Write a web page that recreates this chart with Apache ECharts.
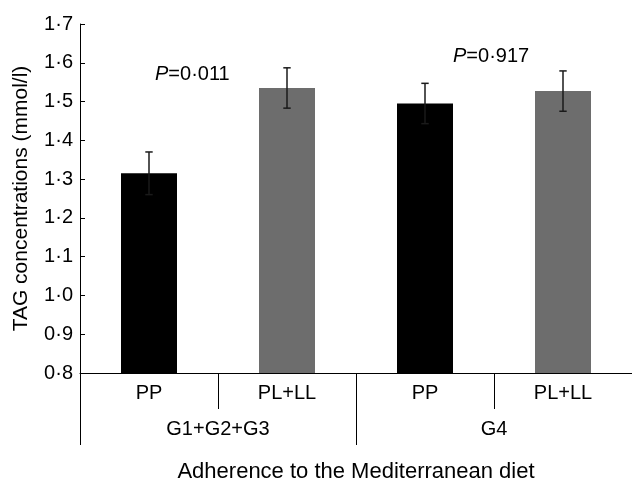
<!DOCTYPE html>
<html>
<head>
<meta charset="utf-8">
<script src="https://cdn.jsdelivr.net/npm/echarts@6/dist/echarts.min.js"></script>
<style>
html,body{margin:0;padding:0;background:#fff;}
#chart{width:632px;height:488px;}
</style>
</head>
<body>
<div id="chart"></div>
<script>
// ---- data ----
const categories = ['PP', 'PL+LL', 'PP', 'PL+LL'];
const groups = ['G1+G2+G3', 'G4'];
const means = [1.315, 1.535, 1.495, 1.527];
const sems = [0.055, 0.052, 0.052, 0.052];
const barColors = ['#000000', '#6d6d6d', '#000000', '#6d6d6d'];
const yTicks = [0.8, 0.9, 1.0, 1.1, 1.2, 1.3, 1.4, 1.5, 1.6, 1.7];
const pLabels = ['0·011', '0·917'];
const xTitle = 'Adherence to the Mediterranean diet';
const yTitle = 'TAG concentrations (mmol/l)';

const FONT = 'Liberation Sans, Arial, Helvetica, sans-serif';
const chart = echarts.init(document.getElementById('chart'), null, {renderer: 'canvas'});

const errData = means.map((m, i) => [i, m - sems[i], m + sems[i]]);

function pText(v) {
  return {
    text: '{i|P}{n|=' + v + '}',
    rich: {
      i: {fontStyle: 'italic', fontSize: 20, fontFamily: FONT, fill: '#000'},
      n: {fontSize: 20, fontFamily: FONT, fill: '#000'}
    }
  };
}

chart.setOption({
  animation: false,
  backgroundColor: '#ffffff',
  grid: {left: 80, right: -4, top: 24, bottom: 112, containLabel: false},
  xAxis: [
    {
      type: 'category', data: categories, position: 'bottom',
      axisLine: {show: true, lineStyle: {color: '#000', width: 1}},
      axisTick: {show: true, length: 36, lineStyle: {color: '#000', width: 1}},
      axisLabel: {color: '#000', fontSize: 20, fontFamily: FONT, margin: 10},
      splitLine: {show: false}
    },
    {
      type: 'category', data: groups, position: 'bottom', offset: 0,
      axisLine: {show: false},
      axisTick: {show: true, length: 72, lineStyle: {color: '#000', width: 1}},
      axisLabel: {color: '#000', fontSize: 20, fontFamily: FONT, margin: 46},
      name: xTitle, nameLocation: 'middle', nameGap: 88,
      nameTextStyle: {color: '#000', fontSize: 22, fontFamily: FONT}
    }
  ],
  yAxis: {
    type: 'value', min: yTicks[0], max: yTicks[yTicks.length - 1], interval: 0.1,
    axisLine: {show: true, lineStyle: {color: '#000', width: 1}},
    axisTick: {show: true, inside: true, length: 5, lineStyle: {color: '#000', width: 1}},
    axisLabel: {color: '#000', fontSize: 20, fontFamily: FONT, margin: 7,
      formatter: v => v.toFixed(1).replace('.', '·')},
    splitLine: {show: false},
    name: yTitle, nameLocation: 'middle', nameGap: 48, nameRotate: 90,
    nameTextStyle: {color: '#000', fontSize: 21, fontFamily: FONT}
  },
  series: [
    {
      type: 'bar', xAxisIndex: 0, barWidth: 56,
      data: means.map((v, i) => ({value: v, itemStyle: {color: barColors[i]}}))
    },
    {
      type: 'custom', xAxisIndex: 0, z: 5,
      renderItem: function (params, api) {
        const x = api.value(0);
        const lo = api.coord([x, api.value(1)]);
        const hi = api.coord([x, api.value(2)]);
        const cap = 3.7;
        const style = {stroke: '#1a1a1a', lineWidth: 1.5};
        return {
          type: 'group',
          children: [
            {type: 'line', shape: {x1: lo[0], y1: lo[1], x2: hi[0], y2: hi[1]}, style: style},
            {type: 'line', shape: {x1: hi[0] - cap, y1: hi[1], x2: hi[0] + cap, y2: hi[1]}, style: style},
            {type: 'line', shape: {x1: lo[0] - cap, y1: lo[1], x2: lo[0] + cap, y2: lo[1]}, style: style}
          ]
        };
      },
      encode: {x: 0, y: [1, 2]},
      data: errData
    }
  ],
  graphic: [
    {type: 'text', left: 155, top: 64, style: pText(pLabels[0])},
    {type: 'text', left: 453, top: 46, style: pText(pLabels[1])}
  ]
});
</script>
</body>
</html>
